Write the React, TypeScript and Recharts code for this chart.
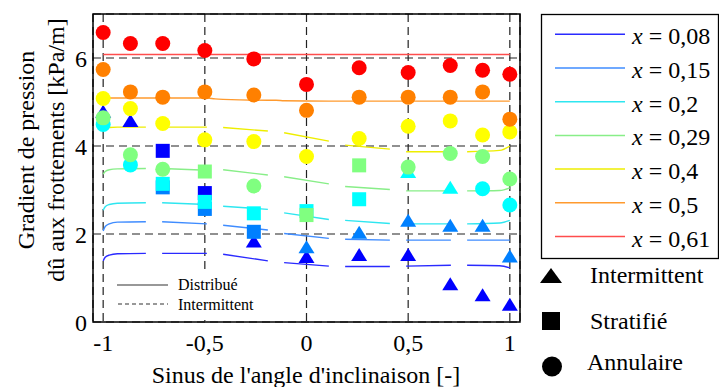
import { ComposedChart, Line, Scatter, XAxis, YAxis, CartesianGrid } from "recharts";

const SIN_ANGLE = [-1, -0.866, -0.707, -0.5, -0.259, 0, 0.259, 0.5, 0.707, 0.866, 1];

// measured gradients (kPa/m) and flow pattern: I intermittent, S stratifié, A annulaire
const GRAD_008 = [4.78, 4.57, 3.89, 2.93, 1.83, 1.48, 1.52, 1.52, 0.86, 0.61, 0.39];
const FLOW_008 = ["I", "I", "S", "S", "I", "I", "I", "I", "I", "I", "I"];
const GRAD_015 = [null, null, 3.06, 2.57, 2.05, 1.7, 2.03, 2.3, 2.19, 2.19, 1.49];
const FLOW_015 = ["", "", "S", "S", "S", "I", "I", "I", "I", "I", "I"];
const GRAD_020 = [4.49, 3.57, 3.14, 2.73, 2.47, 2.52, 2.79, 3.41, 3.05, 3.03, 2.66];
const FLOW_020 = ["A", "A", "S", "S", "S", "S", "S", "I", "I", "A", "A"];
const GRAD_029 = [4.64, 3.8, 3.47, 3.42, 3.09, 2.43, 3.56, 3.52, 3.83, 3.76, 3.25];
const FLOW_029 = ["A", "A", "A", "S", "A", "S", "S", "A", "A", "A", "A"];
const GRAD_040 = [5.08, 4.85, 4.51, 4.14, 4.1, 3.76, 4.17, 4.45, 4.57, 4.25, 4.32];
const GRAD_050 = [5.74, 5.23, 5.11, 5.23, 5.16, 4.81, 5.11, 5.11, 5.11, 5.23, 4.61];
const GRAD_061 = [6.58, 6.33, 6.33, 6.17, 5.98, 5.4, 5.78, 5.67, 5.83, 5.72, 5.63];
const FLOW_ANNULAR = ["A", "A", "A", "A", "A", "A", "A", "A", "A", "A", "A"];

// model curves ("Distribué"), null = gap in the drawn line
const MODEL_X = [-1, -0.99, -0.97, -0.93, -0.79, -0.75, -0.71, -0.49, -0.45, -0.41, -0.19, -0.15,
  -0.11, 0.11, 0.15, 0.19, 0.41, 0.45, 0.49, 0.71, 0.75, 0.79, 0.95, 1];
const MODEL_008 = [1.39, 1.47, 1.52, 1.55, 1.56, null, 1.56, 1.56, null, 1.54, 1.39, null,
  1.35, 1.27, null, 1.26, 1.26, null, 1.27, 1.29, null, 1.29, 1.28, 1.23];
const MODEL_015 = [2.07, 2.17, 2.23, 2.27, 2.28, null, 2.28, 2.23, null, 2.2, 2.09, null,
  2.01, 1.9, null, 1.88, 1.86, null, 1.86, 1.86, null, 1.86, 1.86, 1.86];
const MODEL_020 = [2.54, 2.62, 2.67, 2.7, 2.71, null, 2.71, 2.67, null, 2.63, 2.56, null,
  2.48, 2.33, null, 2.31, 2.24, null, 2.23, 2.23, null, 2.23, 2.25, 2.31];
const MODEL_029 = [3.36, 3.42, 3.46, 3.48, 3.49, null, 3.49, 3.45, null, 3.46, 3.34, null,
  3.3, 3.14, null, 3.08, 3.01, null, 2.98, 2.98, null, 2.98, 2.99, 3.05];
const MODEL_040 = [4.36, 4.4, 4.42, 4.43, 4.43, null, 4.43, 4.43, null, 4.42, 4.34, null,
  4.3, 4.11, null, 4.02, 3.93, null, 3.87, 3.87, null, 3.87, 3.9, 4.0];
const MODEL_050 = [5.08, 5.09, 5.09, 5.09, 5.09, 5.09, 5.09, 5.09, 5.07, 5.06, 5.04, 5.04,
  5.03, 5.02, 5.02, 5.02, 5.02, 5.02, 5.02, 5.02, 5.02, 5.02, 5.02, 5.02];
const MODEL_061 = [6.08, 6.08, 6.08, 6.08, 6.08, 6.08, 6.08, 6.08, 6.08, 6.08, 6.08, 6.08,
  6.08, 6.08, 6.08, 6.08, 6.08, 6.08, 6.08, 6.08, 6.08, 6.08, 6.08, 6.08];

const QUALITY_LABELS = ["0,08", "0,15", "0,2", "0,29", "0,4", "0,5", "0,61"];
const X_TICKS = [-1, -0.5, 0, 0.5, 1];
const Y_TICKS = [0, 2, 4, 6];

const MARKER_COLORS = ["#0000ff", "#0080ff", "#00ffff", "#80ff80", "#ffff00", "#ff8000", "#ff0000"];
const LINE_COLORS = ["#2a2aff", "#3f8cff", "#2ee6f0", "#88ee88", "#eeee00", "#ff9a2e", "#ff4d4d"];

const series = [
  { grad: GRAD_008, flow: FLOW_008, model: MODEL_008 },
  { grad: GRAD_015, flow: FLOW_015, model: MODEL_015 },
  { grad: GRAD_020, flow: FLOW_020, model: MODEL_020 },
  { grad: GRAD_029, flow: FLOW_029, model: MODEL_029 },
  { grad: GRAD_040, flow: FLOW_ANNULAR, model: MODEL_040 },
  { grad: GRAD_050, flow: FLOW_ANNULAR, model: MODEL_050 },
  { grad: GRAD_061, flow: FLOW_ANNULAR, model: MODEL_061 },
];

const FONT = "'Liberation Serif', 'Times New Roman', serif";

const points = (grad, flow, kind) =>
  SIN_ANGLE.map((x, i) => ({ x, y: grad[i], kind: flow[i] })).filter((p) => p.y != null && p.kind === kind);

const modelData = (model) => MODEL_X.map((x, i) => ({ x, y: model[i] }));

function marker(kind, color) {
  return (props) => {
    const { cx, cy } = props;
    if (cx == null || cy == null) return <g />;
    if (kind === "A") return <circle cx={cx} cy={cy} r={7.5} fill={color} />;
    if (kind === "S") return <rect x={cx - 7} y={cy - 7} width={14} height={14} fill={color} />;
    return <path d={`M${cx},${cy - 7} L${cx + 8},${cy + 6} L${cx - 8},${cy + 6} Z`} fill={color} />;
  };
}

export default function App() {
  return (
    <div style={{ position: "absolute", left: 0, top: 0, width: 719, height: 387, background: "#fff" }}>
      <ComposedChart width={719} height={387} margin={{ top: 14, right: 199, bottom: 25, left: 33 }}>
        <CartesianGrid stroke="#222" strokeDasharray="8 5" strokeWidth={1.2} />
        <XAxis
          type="number"
          dataKey="x"
          domain={[-1.05, 1.05]}
          ticks={X_TICKS}
          axisLine={false}
          tickLine={false}
          tickSize={0}
          tickMargin={12}
          height={40}
          tick={{ fill: "#000", fontSize: 24, fontFamily: FONT }}
          tickFormatter={(v) => String(v).replace(".", ",")}
        />
        <YAxis
          type="number"
          dataKey="y"
          domain={[0, 7]}
          ticks={Y_TICKS}
          axisLine={false}
          tickLine={false}
          tickSize={0}
          tickMargin={6}
          width={60}
          tick={{ fill: "#000", fontSize: 24, fontFamily: FONT }}
        />
        {series.map((s, i) => (
          <Line
            key={`m${i}`}
            data={modelData(s.model)}
            dataKey="y"
            type="monotone"
            stroke={LINE_COLORS[i]}
            strokeWidth={1.4}
            dot={false}
            activeDot={false}
            isAnimationActive={false}
          />
        ))}
        {series.flatMap((s, i) =>
          ["I", "S", "A"].map((kind) => (
            <Scatter
              key={`p${i}${kind}`}
              data={points(s.grad, s.flow, kind)}
              dataKey="y"
              shape={marker(kind, MARKER_COLORS[i])}
              isAnimationActive={false}
            />
          ))
        )}
      </ComposedChart>

      <svg width={719} height={387} style={{ position: "absolute", left: 0, top: 0, pointerEvents: "none" }}
        fontFamily={FONT} fill="#000">
        <rect x={93} y={14} width={427} height={308} fill="none" stroke="#000" strokeWidth={1.5} />

        <text transform="translate(34,150) rotate(-90)" textAnchor="middle" fontSize={24}>Gradient de pression</text>
        <text transform="translate(64,150) rotate(-90)" textAnchor="middle" fontSize={24}>dû aux frottements [kPa/m]</text>
        <text x={306} y={383} textAnchor="middle" fontSize={24}>Sinus de l'angle d'inclinaison [-]</text>

        <rect x={109} y={274} width={186} height={46} fill="#fff" />
        <line x1={117} x2={168} y1={285} y2={285} stroke="#333" strokeWidth={1.2} />
        <text x={178} y={290} fontSize={16}>Distribué</text>
        <line x1={118} x2={168} y1={304} y2={304} stroke="#333" strokeWidth={1.2} strokeDasharray="4 3" />
        <text x={178} y={310} fontSize={16}>Intermittent</text>

        <rect x={541.5} y={14.5} width={177} height={244} fill="#fff" stroke="#000" strokeWidth={1.3} />
        {QUALITY_LABELS.map((q, i) => {
          const y = 34.3 + i * 33.7;
          return (
            <g key={q}>
              <line x1={555} x2={625} y1={y} y2={y} stroke={LINE_COLORS[i]} strokeWidth={1.5} />
              <text x={632} y={y + 10} fontSize={24}>
                <tspan fontStyle="italic">x</tspan>
                {" = " + q}
              </text>
            </g>
          );
        })}

        <path d="M551,268 L562,283 L540,283 Z" fill="#000" />
        <text x={590} y={283} fontSize={24}>Intermittent</text>
        <rect x={542} y={312} width={18} height={18} fill="#000" />
        <text x={590} y={329} fontSize={24}>Stratifié</text>
        <circle cx={552} cy={366.5} r={10} fill="#000" />
        <text x={587} y={370} fontSize={24}>Annulaire</text>
      </svg>
    </div>
  );
}
